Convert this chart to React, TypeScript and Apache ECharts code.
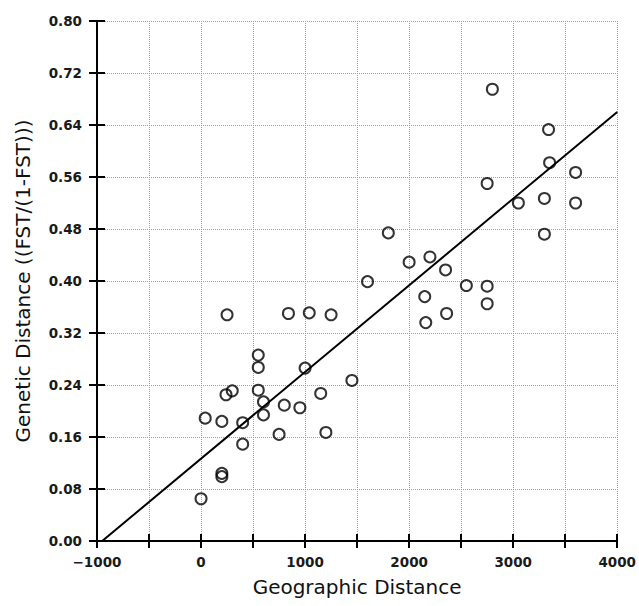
import React, { useEffect, useRef } from "react";
import * as echarts from "echarts";

const geoDistance = [
  250, 840, 1040, 1250, 1600, 550, 550, 1000, 1450, 240, 300, 550, 600, 1150, 800,
  950, 600, 40, 200, 400, 750, 1200, 400, 200, 200, 0, 2800, 3340, 3350, 3600,
  2750, 3050, 3300, 3600, 3300, 1800, 2000, 2200, 2350, 2550, 2750, 2150, 2750, 2360, 2160,
];
const geneticDistance = [
  0.348, 0.35, 0.351, 0.348, 0.399, 0.286, 0.267, 0.266, 0.247, 0.225, 0.231, 0.232, 0.214, 0.227, 0.209,
  0.205, 0.194, 0.189, 0.184, 0.182, 0.164, 0.167, 0.149, 0.104, 0.099, 0.065, 0.695, 0.633, 0.582, 0.567,
  0.55, 0.52, 0.527, 0.52, 0.472, 0.474, 0.429, 0.437, 0.417, 0.393, 0.392, 0.376, 0.365, 0.35, 0.336,
];
const fitX = [-950, 4000];
const fitY = [0, 0.66];

const FONT = "'DejaVu Sans', Verdana, sans-serif";

export default function App() {
  const ref = useRef<HTMLDivElement>(null);
  useEffect(() => {
    if (!ref.current) return;
    const chart = echarts.init(ref.current, undefined, { renderer: "svg" });
    const xBase = {
      type: "value" as const,
      min: -1000,
      max: 4000,
      interval: 500,
    };
    const yBase = {
      type: "value" as const,
      min: 0,
      max: 0.8,
      interval: 0.08,
    };
    const labelStyle = {
      fontFamily: FONT,
      fontSize: 13.5,
      fontWeight: "bold" as const,
      color: "#1a1a1a",
    };
    chart.setOption({
      animation: false,
      backgroundColor: "#fff",
      grid: { left: 97, right: 21, top: 21, bottom: 65, containLabel: false },
      xAxis: [
        {
          ...xBase,
          position: "bottom",
          name: "Geographic Distance",
          nameLocation: "middle",
          nameGap: 36,
          nameTextStyle: { fontFamily: FONT, fontSize: 20, color: "#111" },
          axisLine: { show: true, onZero: false, lineStyle: { color: "#000", width: 2 } },
          axisTick: { show: true, inside: false, length: 7, lineStyle: { color: "#000", width: 2 } },
          axisLabel: {
            margin: 14,
            ...labelStyle,
            formatter: (v: number) =>
              Math.round(v) % 1000 === 0 ? (v < 0 ? "\u2212" + Math.abs(v) : String(v)) : "",
          },
          splitLine: { show: true, lineStyle: { color: "#a0a0a0", type: "dotted", width: 1 } },
        },
        {
          ...xBase,
          position: "bottom",
          axisLine: { show: false, onZero: false },
          axisTick: { show: true, inside: true, length: 7, lineStyle: { color: "#000", width: 2 } },
          axisLabel: { show: false },
          splitLine: { show: false },
        },
      ],
      yAxis: [
        {
          ...yBase,
          position: "left",
          name: "Genetic Distance ((FST/(1-FST)))",
          nameLocation: "middle",
          nameGap: 64,
          nameTextStyle: { fontFamily: FONT, fontSize: 20, color: "#111" },
          axisLine: { show: true, onZero: false, lineStyle: { color: "#000", width: 2 } },
          axisTick: { show: true, inside: false, length: 8, lineStyle: { color: "#000", width: 2 } },
          axisLabel: {
            margin: 15,
            ...labelStyle,
            formatter: (v: number) => v.toFixed(2),
          },
          splitLine: { show: true, lineStyle: { color: "#a0a0a0", type: "dotted", width: 1 } },
        },
        {
          ...yBase,
          position: "left",
          axisLine: { show: false, onZero: false },
          axisTick: { show: true, inside: true, length: 8, lineStyle: { color: "#000", width: 2 } },
          axisLabel: { show: false },
          splitLine: { show: false },
        },
      ],
      series: [
        {
          type: "line",
          xAxisIndex: 0,
          yAxisIndex: 0,
          data: fitX.map((x, i) => [x, fitY[i]]),
          symbol: "none",
          lineStyle: { color: "#000", width: 2 },
          silent: true,
          z: 2,
        },
        {
          type: "scatter",
          xAxisIndex: 0,
          yAxisIndex: 0,
          data: geoDistance.map((x, i) => [x, geneticDistance[i]]),
          symbol: "circle",
          symbolSize: 11,
          itemStyle: { color: "rgba(255,255,255,0)", borderColor: "#000", borderWidth: 2 },
          z: 3,
        },
      ],
    });
    return () => chart.dispose();
  }, []);
  return (
    <div
      ref={ref}
      style={{ position: "fixed", left: 0, top: 0, width: 639, height: 606, background: "#fff" }}
    />
  );
}
